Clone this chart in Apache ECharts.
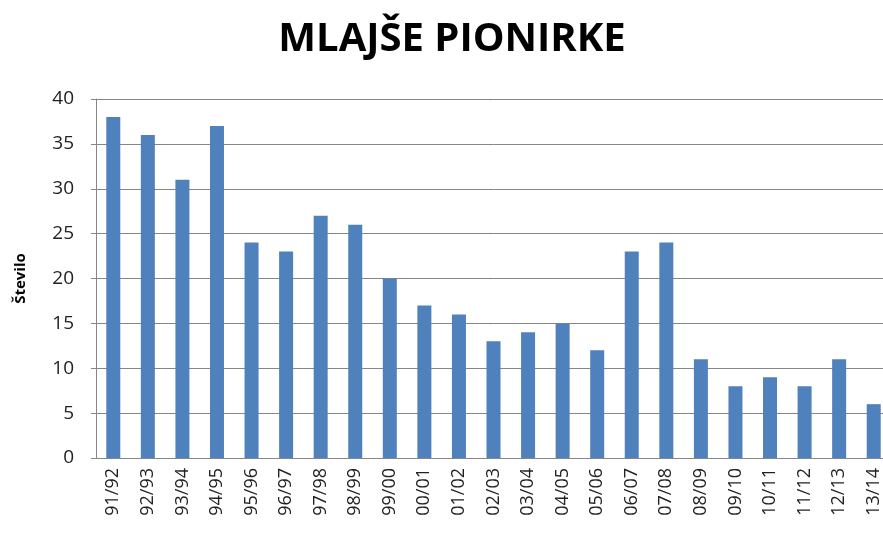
<!DOCTYPE html>
<html><head><meta charset="utf-8">
<script src="https://cdn.jsdelivr.net/npm/echarts@6/dist/echarts.min.js"></script>
<style>html,body{margin:0;padding:0;background:#fff;overflow:hidden}#c{width:900px;height:540px}</style>
</head><body><div id="c"></div>
<script>
const categories = ["91/92","92/93","93/94","94/95","95/96","96/97","97/98","98/99","99/00","00/01","01/02","02/03","03/04","04/05","05/06","06/07","07/08","08/09","09/10","10/11","11/12","12/13","13/14"];
const values = [38,36,31,37,24,23,27,26,20,17,16,13,14,15,12,23,24,11,8,9,8,11,6];
const yTicks = [0,5,10,15,20,25,30,35,40];
const chart = echarts.init(document.getElementById('c'));
chart.setOption({
  animation:false,
  title:{text:'MLAJŠE PIONIRKE',left:447,textAlign:'center',top:15,textStyle:{fontFamily:'Open Sans',fontWeight:'bold',fontSize:40,color:'#000'}},
  grid:{left:96,width:795,top:99,height:359,containLabel:false},
  xAxis:{type:'category',data:categories,
    axisLine:{lineStyle:{color:'#868686',width:1}},axisTick:{show:false},
    axisLabel:{rotate:90,interval:0,fontFamily:'Open Sans',fontSize:18,color:'#222',margin:10}},
  yAxis:{type:'value',min:yTicks[0],max:yTicks[yTicks.length-1],interval:5,
    name:'Število',nameLocation:'middle',nameGap:68,nameTextStyle:{fontFamily:'Open Sans',fontWeight:'bold',fontSize:15,color:'#000'},
    axisLine:{show:true,lineStyle:{color:'#868686'}},axisTick:{show:true,length:5,lineStyle:{color:'#868686'}},
    splitLine:{lineStyle:{color:'#868686'}},
    axisLabel:{fontFamily:'Open Sans',fontSize:19,color:'#222',margin:22}},
  series:[{type:'bar',data:values,barWidth:14,itemStyle:{color:'#4F81BD'}}]
});
</script></body></html>
